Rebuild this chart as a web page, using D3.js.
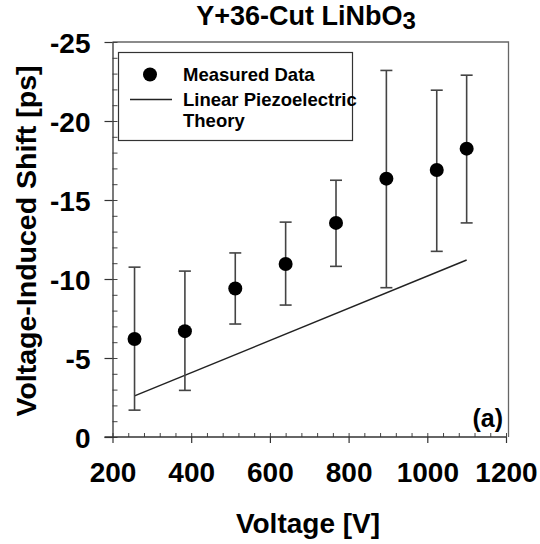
<!DOCTYPE html>
<html><head><meta charset="utf-8">
<script src="https://cdn.jsdelivr.net/npm/d3@7"></script>
<style>
html,body{margin:0;padding:0;background:#fff;}
text{font-family:"Liberation Sans",Arial,sans-serif;font-weight:bold;fill:#000;}
</style></head>
<body>
<svg id="chart" width="540" height="544"></svg>
<script>
// ---- data ----
const voltage   = [256, 384, 512, 640, 768, 896, 1024, 1100];
const shift     = [-6.2, -6.7, -9.4, -10.95, -13.55, -16.35, -16.9, -18.25];
const errUpper  = [-10.75, -10.5, -11.65, -13.6, -16.25, -23.2, -21.95, -22.9];
const errLower  = [-1.7, -2.95, -7.15, -8.35, -10.8, -9.45, -11.75, -13.55];
const theoryV   = [256, 1100];
const theoryY   = [-2.6, -11.2];
const xTicks    = [200, 400, 600, 800, 1000, 1200];
const yTicks    = [0, -5, -10, -15, -20, -25];
const titleMain = "Y+36-Cut LiNbO";
const titleSub  = "3";
const xLabel    = "Voltage [V]";
const yLabel    = "Voltage-Induced Shift [ps]";
const legendLabels = ["Measured Data", "Linear Piezoelectric", "Theory"];
const panelLabel = "(a)";

const svg = d3.select("#chart");
const x = d3.scaleLinear().domain([200, 1200]).range([112.5, 506]);
const y = d3.scaleLinear().domain([0, -25]).range([437, 42]);

// frame (top/right)
const fr = x(1200) + 2.5;
svg.append("path")
  .attr("d", `M${x(200)},${y(-25)}H${fr}V${y(0)}`)
  .attr("fill", "none").attr("stroke", "#666").attr("stroke-width", 1.3);

// y minor ticks (inward)
const yMinor = d3.range(0, -25.5, -1);
svg.append("g").attr("transform", `translate(${x(200)},0)`)
  .call(d3.axisLeft(y).tickValues(yMinor).tickSize(-5).tickFormat(""))
  .call(g => g.select(".domain").remove())
  .selectAll("line").attr("stroke", "#444").attr("stroke-width", 1);
// y major
const gy = svg.append("g").attr("transform", `translate(${x(200)},0)`)
  .call(d3.axisLeft(y).tickValues(yTicks).tickSize(8).tickPadding(14).tickSizeOuter(0).tickFormat(d => String(d)));
gy.select(".domain").attr("stroke", "#333").attr("stroke-width", 1.3);
gy.selectAll("line").attr("stroke", "#333").attr("stroke-width", 1.2);
gy.selectAll("text").attr("font-size", 28).attr("font-family", "Liberation Sans, Arial, sans-serif").attr("font-weight", "bold").attr("dy", "0.36em");

// x minor ticks (inward)
const xMinor = d3.range(200, 1201, 40);
svg.append("g").attr("transform", `translate(0,${y(0)})`)
  .call(d3.axisBottom(x).tickValues(xMinor).tickSize(-4).tickFormat(""))
  .call(g => g.select(".domain").remove())
  .selectAll("line").attr("stroke", "#444").attr("stroke-width", 1);
// x major
const gx = svg.append("g").attr("transform", `translate(0,${y(0)})`)
  .call(d3.axisBottom(x).tickValues(xTicks).tickSize(6).tickPadding(19).tickSizeOuter(0).tickFormat(d => String(d)));
gx.select(".domain").attr("stroke", "#333").attr("stroke-width", 1.3).attr("d", `M${x(200)-8},0H${x(1200)}`);
gx.selectAll("line").attr("stroke", "#333").attr("stroke-width", 1.2);
gx.selectAll("text").attr("font-size", 28).attr("font-family", "Liberation Sans, Arial, sans-serif").attr("font-weight", "bold").attr("dy", "0.71em");

// theory line
svg.append("path")
  .datum(theoryV.map((v, i) => [v, theoryY[i]]))
  .attr("d", d3.line().x(d => x(d[0])).y(d => y(d[1])))
  .attr("fill", "none").attr("stroke", "#222").attr("stroke-width", 1.5);

// error bars
const data = voltage.map((v, i) => ({v, s: shift[i], hi: errUpper[i], lo: errLower[i]}));
const eb = svg.append("g").attr("stroke", "#444").attr("stroke-width", 1.6);
data.forEach(d => {
  eb.append("line").attr("x1", x(d.v)).attr("x2", x(d.v)).attr("y1", y(d.hi)).attr("y2", y(d.lo));
  eb.append("line").attr("x1", x(d.v) - 6).attr("x2", x(d.v) + 6).attr("y1", y(d.hi)).attr("y2", y(d.hi));
  eb.append("line").attr("x1", x(d.v) - 6).attr("x2", x(d.v) + 6).attr("y1", y(d.lo)).attr("y2", y(d.lo));
});
// points
svg.append("g").selectAll("circle").data(data).join("circle")
  .attr("cx", d => x(d.v)).attr("cy", d => y(d.s)).attr("r", 7).attr("fill", "#000");

// legend
const lg = svg.append("g");
lg.append("rect").attr("x", 118.5).attr("y", 52.5).attr("width", 234).attr("height", 88)
  .attr("fill", "#fff").attr("stroke", "#333").attr("stroke-width", 1.2);
lg.append("circle").attr("cx", 150).attr("cy", 74.5).attr("r", 7).attr("fill", "#000");
lg.append("line").attr("x1", 130).attr("x2", 172).attr("y1", 99.5).attr("y2", 99.5).attr("stroke", "#222").attr("stroke-width", 1.5);
lg.append("text").attr("x", 183).attr("y", 81).attr("font-size", 18.5).text(legendLabels[0]);
lg.append("text").attr("x", 183).attr("y", 105.5).attr("font-size", 18.5).text(legendLabels[1]);
lg.append("text").attr("x", 183).attr("y", 127).attr("font-size", 18.5).text(legendLabels[2]);

// panel label
svg.append("text").attr("x", 503).attr("y", 427).attr("text-anchor", "end").attr("font-size", 25).text(panelLabel);

// title
const t = svg.append("text").attr("x", 306).attr("y", 25).attr("text-anchor", "middle").attr("font-size", 27);
t.append("tspan").text(titleMain);
t.append("tspan").attr("dy", 4).attr("font-size", 24).text(titleSub);

// axis titles
svg.append("text").attr("x", 308).attr("y", 533).attr("text-anchor", "middle").attr("font-size", 28).text(xLabel);
svg.append("text").attr("transform", "translate(36,241) rotate(-90)").attr("text-anchor", "middle").attr("font-size", 28.5).text(yLabel);
</script>
</body></html>
